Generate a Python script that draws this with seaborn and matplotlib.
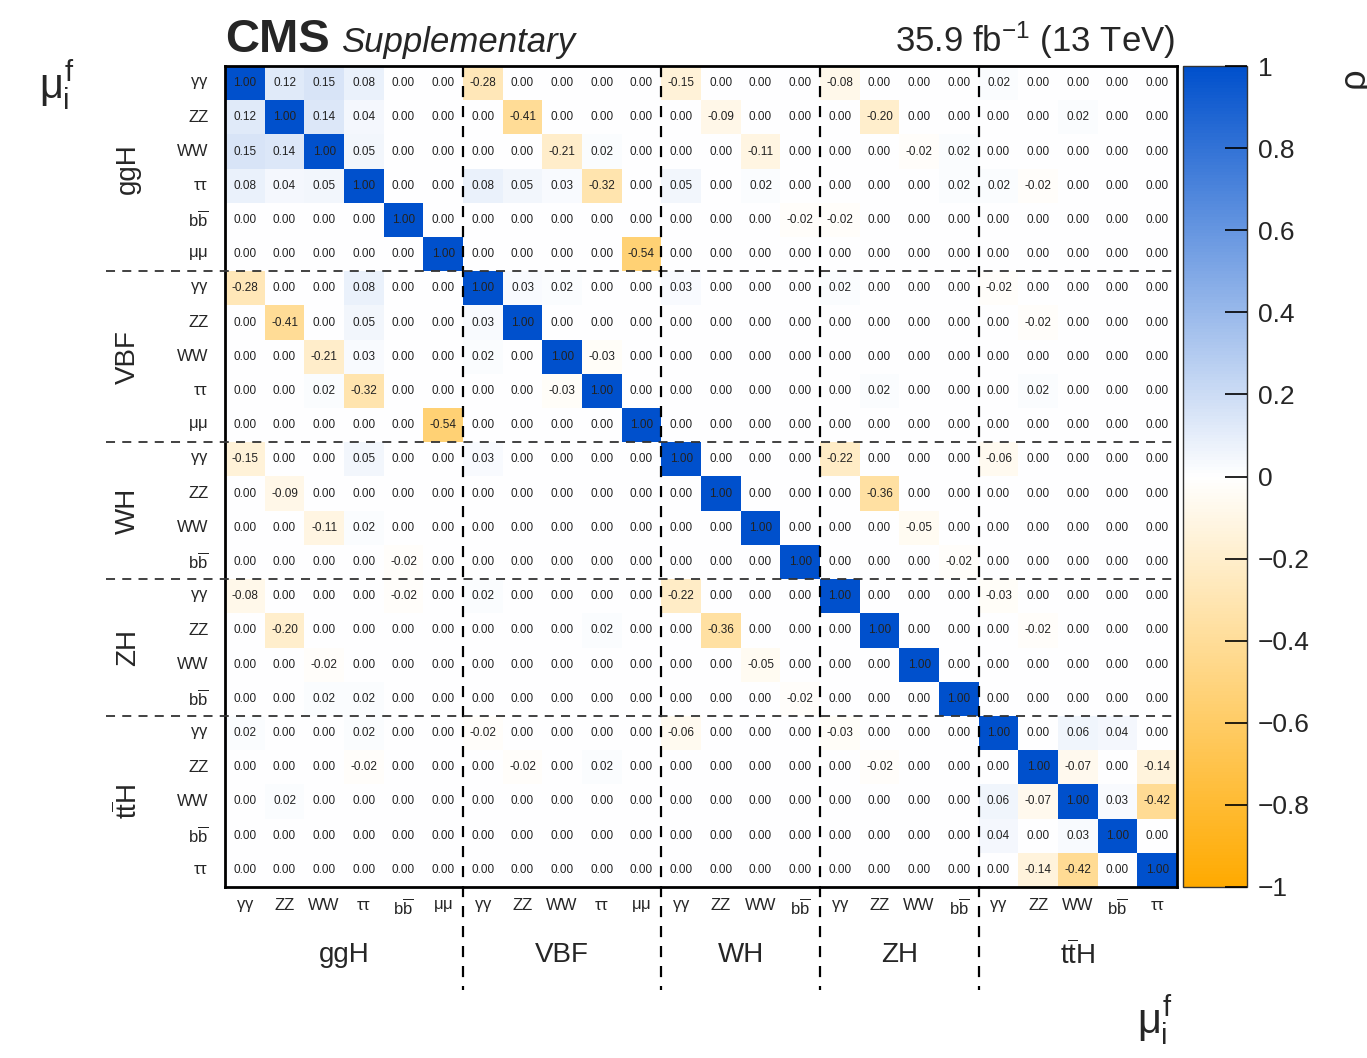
import numpy as np
import pandas as pd
import matplotlib
matplotlib.use("Agg")
import matplotlib.pyplot as plt
from matplotlib.colors import LinearSegmentedColormap
import seaborn as sns

# Production modes and the decay channels measured for each of them
production_modes = ["ggH", "VBF", "WH", "ZH", "ttH"]
decay_channels = {
    "ggH": ["γγ", "ZZ", "WW", "ττ", "bb", "μμ"],
    "VBF": ["γγ", "ZZ", "WW", "ττ", "μμ"],
    "WH": ["γγ", "ZZ", "WW", "bb"],
    "ZH": ["γγ", "ZZ", "WW", "bb"],
    "ttH": ["γγ", "ZZ", "WW", "bb", "ττ"],
}

# Off-diagonal correlation coefficients (the matrix is symmetric)
correlations = [
    ("ggH/γγ", "ggH/ZZ", 0.12),
    ("ggH/γγ", "ggH/WW", 0.15),
    ("ggH/ZZ", "ggH/WW", 0.14),
    ("ggH/γγ", "ggH/ττ", 0.08),
    ("ggH/ZZ", "ggH/ττ", 0.04),
    ("ggH/WW", "ggH/ττ", 0.05),
    ("ggH/γγ", "VBF/γγ", -0.28),
    ("ggH/ZZ", "VBF/ZZ", -0.41),
    ("ggH/WW", "VBF/WW", -0.21),
    ("ggH/ττ", "VBF/ττ", -0.32),
    ("ggH/μμ", "VBF/μμ", -0.54),
    ("ggH/WW", "VBF/ττ", 0.02),
    ("ggH/ττ", "VBF/γγ", 0.08),
    ("ggH/ττ", "VBF/ZZ", 0.05),
    ("ggH/ττ", "VBF/WW", 0.03),
    ("ggH/γγ", "WH/γγ", -0.15),
    ("ggH/ZZ", "WH/ZZ", -0.09),
    ("ggH/WW", "WH/WW", -0.11),
    ("ggH/ττ", "WH/γγ", 0.05),
    ("ggH/ττ", "WH/WW", 0.02),
    ("ggH/bb", "WH/bb", -0.02),
    ("ggH/γγ", "ZH/γγ", -0.08),
    ("ggH/ZZ", "ZH/ZZ", -0.20),
    ("ggH/WW", "ZH/WW", -0.02),
    ("ggH/WW", "ZH/bb", 0.02),
    ("ggH/ττ", "ZH/bb", 0.02),
    ("ggH/bb", "ZH/γγ", -0.02),
    ("ggH/γγ", "ttH/γγ", 0.02),
    ("ggH/ZZ", "ttH/WW", 0.02),
    ("ggH/ττ", "ttH/γγ", 0.02),
    ("ggH/ττ", "ttH/ZZ", -0.02),
    ("VBF/γγ", "VBF/ZZ", 0.03),
    ("VBF/γγ", "VBF/WW", 0.02),
    ("VBF/WW", "VBF/ττ", -0.03),
    ("VBF/γγ", "WH/γγ", 0.03),
    ("VBF/γγ", "ZH/γγ", 0.02),
    ("VBF/γγ", "ttH/γγ", -0.02),
    ("VBF/ZZ", "ttH/ZZ", -0.02),
    ("VBF/ττ", "ZH/ZZ", 0.02),
    ("VBF/ττ", "ttH/ZZ", 0.02),
    ("WH/γγ", "ZH/γγ", -0.22),
    ("WH/ZZ", "ZH/ZZ", -0.36),
    ("WH/WW", "ZH/WW", -0.05),
    ("WH/bb", "ZH/bb", -0.02),
    ("WH/γγ", "ttH/γγ", -0.06),
    ("ZH/γγ", "ttH/γγ", -0.03),
    ("ZH/ZZ", "ttH/ZZ", -0.02),
    ("ttH/γγ", "ttH/WW", 0.06),
    ("ttH/γγ", "ttH/bb", 0.04),
    ("ttH/ZZ", "ttH/WW", -0.07),
    ("ttH/ZZ", "ttH/ττ", -0.14),
    ("ttH/WW", "ttH/bb", 0.03),
    ("ttH/WW", "ttH/ττ", -0.42),
]

channel_labels = {
    "γγ": r"$\gamma\gamma$", "ZZ": "ZZ", "WW": "WW",
    "ττ": r"$\tau\tau$", "bb": r"$b\overline{b}$", "μμ": r"$\mu\mu$",
}
mode_labels = {"ggH": "ggH", "VBF": "VBF", "WH": "WH", "ZH": "ZH",
               "ttH": r"$t\overline{t}$H"}

# ---- build the symmetric matrix ----
keys = [f"{m}/{c}" for m in production_modes for c in decay_channels[m]]
rho = pd.DataFrame(np.eye(len(keys)), index=keys, columns=keys)
for a, b, v in correlations:
    rho.loc[a, b] = v
    rho.loc[b, a] = v

tick_labels = [channel_labels[k.split("/")[1]] for k in keys]
group_sizes = [len(decay_channels[m]) for m in production_modes]
bounds = np.cumsum(group_sizes)

# ---- style ----
sns.set_theme(style="white")
plt.rcParams["font.family"] = ["Liberation Sans", "DejaVu Sans"]
plt.rcParams["mathtext.fontset"] = "custom"
plt.rcParams["mathtext.rm"] = "Liberation Sans"
plt.rcParams["mathtext.it"] = "Liberation Sans"
plt.rcParams["mathtext.bf"] = "Liberation Sans:bold"

cmap = LinearSegmentedColormap.from_list(
    "rho", ["#ffaa00", "#ffffff", "#0050cc"])

W, H = 1367, 1058
fig = plt.figure(figsize=(W / 100, H / 100), dpi=100)
ax = fig.add_axes([225 / W, 1 - 887 / H, 952 / W, 821 / H])
cax = fig.add_axes([1183 / W, 1 - 887 / H, 64 / W, 821 / H])

sns.heatmap(rho, ax=ax, cbar_ax=cax, cmap=cmap, vmin=-1, vmax=1,
            annot=True, fmt=".2f",
            annot_kws={"size": 8.5, "color": "#222222"},
            xticklabels=tick_labels, yticklabels=tick_labels,
            square=False, linewidths=0)

n = len(keys)
ax.tick_params(axis="both", length=0, labelsize=12)
ax.tick_params(axis="x", pad=8)
ax.tick_params(axis="y", pad=12)
plt.setp(ax.get_xticklabels(), rotation=0)
plt.setp(ax.get_yticklabels(), rotation=0)
for s in ax.spines.values():
    s.set_visible(True)
    s.set_color("black")
    s.set_linewidth(2)

# group separators, extended past the frame to the group labels
for b in bounds[:-1]:
    ax.plot([b, b], [0, n + 3.0], ls=(0, (5, 4)), color="black", lw=1.6,
            clip_on=False, zorder=5)
    ax.plot([-3.0, n], [b, b], ls=(0, (5, 4)), color="#333333", lw=1.3,
            clip_on=False, zorder=5)

# production mode labels
starts = np.concatenate([[0], bounds[:-1]])
for m, s0, s1 in zip(production_modes, starts, bounds):
    mid = (s0 + s1) / 2
    ax.text(mid, n + 2.0, mode_labels[m], ha="center", va="center",
            fontsize=20, clip_on=False)
    ax.text(-2.45, mid, mode_labels[m], ha="center", va="center",
            fontsize=20, rotation=90, clip_on=False)

# colour scale
cbar = ax.collections[0].colorbar
ticks = np.round(np.arange(-1, 1.01, 0.2), 1)
cbar.set_ticks(ticks)
cbar.set_ticklabels(["1" if t == 1 else "\u22121" if t == -1 else
                     "0" if t == 0 else f"{t:g}".replace("-", "\u2212")
                     for t in ticks])
cax.set_axisbelow(False)
cax.tick_params(axis="y", direction="in", length=16, width=1.2,
                color="black", labelsize=19, pad=8, right=True)
cbar.outline.set_linewidth(1)
cbar.outline.set_edgecolor("#333333")

# header and axis titles
fig.text(225 / W, 1 - 52 / H, "CMS", fontsize=34, fontweight="bold",
         ha="left", va="baseline")
fig.text(341 / W, 1 - 52 / H, "Supplementary", fontsize=25,
         fontstyle="italic", ha="left", va="baseline")
fig.text(1175 / W, 1 - 52 / H, r"35.9 fb$^{-1}$ (13 TeV)", fontsize=25,
         ha="right", va="baseline")
fig.text(57 / W, 1 - 85 / H, r"$\mu_{\mathrm{i}}^{\mathrm{f}}$",
         fontsize=30, ha="center", va="center")
fig.text(1155 / W, 1 - 1020 / H, r"$\mu_{\mathrm{i}}^{\mathrm{f}}$",
         fontsize=30, ha="center", va="center")
fig.text(1358 / W, 1 - 80 / H, r"$\rho$", fontsize=26, rotation=90,
         ha="center", va="center")

fig.savefig("out.png", dpi=100)
